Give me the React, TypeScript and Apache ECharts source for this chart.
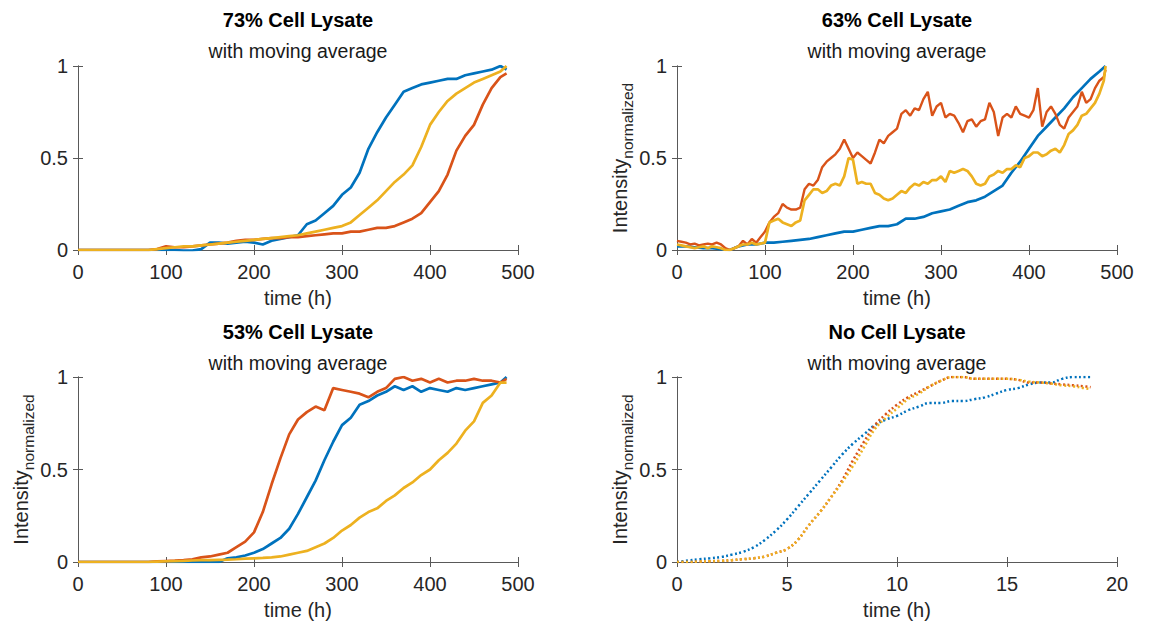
import React, { useEffect, useRef } from "react";
import * as echarts from "echarts";

const FONT = "'Liberation Sans', Arial, Helvetica, sans-serif";
const BLUE = "#0072BD";
const RED = "#D95319";
const YELLOW = "#EDB120";

// time axis (h) for the lysate experiments
const timeLysate = [
  0, 10, 20, 30, 40, 50, 60, 70, 80, 90, 100, 110, 120, 130, 140, 150, 160, 170, 180, 190,
  200, 210, 220, 230, 240, 250, 260, 270, 280, 290, 300, 310, 320, 330, 340, 350, 360, 370, 380, 390,
  400, 410, 420, 430, 440, 450, 460, 470, 480, 487,
];
// finer time axis (h) for the noisy 63% traces
const timeFine = [
  0, 5, 10, 15, 20, 25, 30, 35, 40, 45,
  50, 55, 60, 65, 70, 75, 80, 85, 90, 95,
  100, 105, 110, 115, 120, 125, 130, 135, 140, 145,
  150, 155, 160, 165, 170, 175, 180, 185, 190, 195,
  200, 205, 210, 215, 220, 225, 230, 235, 240, 245,
  250, 255, 260, 265, 270, 275, 280, 285, 290, 295,
  300, 305, 310, 315, 320, 325, 330, 335, 340, 345,
  350, 355, 360, 365, 370, 375, 380, 385, 390, 395,
  400, 405, 410, 415, 420, 425, 430, 435, 440, 445,
  450, 455, 460, 465, 470, 475, 480, 485, 487,
];

// 73% Cell Lysate
const blue73 = [
  0, 0, 0, 0, 0, 0, 0, 0, 0, 0, 0, 0, -0.003, -0.003, 0.005, 0.04, 0.04, 0.035, 0.04, 0.045,
  0.04, 0.03, 0.05, 0.06, 0.07, 0.08, 0.14, 0.16, 0.2, 0.24, 0.3, 0.34, 0.42, 0.55, 0.64, 0.72, 0.79, 0.86, 0.88, 0.9,
  0.91, 0.92, 0.93, 0.93, 0.95, 0.96, 0.97, 0.98, 1.0, 0.98,
];
const red73 = [
  0, 0, 0, 0, 0, 0, 0, 0, 0, 0.005, 0.02, 0.015, 0.015, 0.02, 0.025, 0.03, 0.035, 0.04, 0.05, 0.055,
  0.055, 0.06, 0.065, 0.065, 0.07, 0.07, 0.075, 0.08, 0.085, 0.09, 0.09, 0.1, 0.1, 0.11, 0.12, 0.12, 0.13, 0.15, 0.17, 0.2,
  0.26, 0.32, 0.41, 0.54, 0.62, 0.68, 0.79, 0.88, 0.94, 0.96,
];
const yellow73 = [
  0, 0, 0, 0, 0, 0, 0, 0, 0, 0.005, 0.01, 0.015, 0.02, 0.02, 0.025, 0.03, 0.035, 0.04, 0.045, 0.05,
  0.055, 0.06, 0.065, 0.07, 0.075, 0.08, 0.09, 0.1, 0.11, 0.12, 0.13, 0.15, 0.19, 0.23, 0.27, 0.32, 0.37, 0.41, 0.46, 0.56,
  0.68, 0.75, 0.81, 0.85, 0.88, 0.91, 0.93, 0.95, 0.97, 1.0,
];

// 63% Cell Lysate
const blue63 = [
  0.02, 0.02, 0.015, 0.01, 0.01, 0.005, 0.0, 0.02, 0.03, 0.03, 0.04, 0.04, 0.045, 0.05, 0.055, 0.06, 0.07, 0.08, 0.09, 0.1,
  0.1, 0.11, 0.12, 0.13, 0.13, 0.14, 0.17, 0.17, 0.18, 0.2, 0.21, 0.22, 0.24, 0.26, 0.27, 0.29, 0.32, 0.35, 0.42, 0.48,
  0.55, 0.62, 0.67, 0.72, 0.77, 0.83, 0.88, 0.93, 0.97, 1.0,
];
const red63 = [
  0.05, 0.045, 0.04, 0.03, 0.035, 0.025, 0.03, 0.035, 0.03, 0.04,
  0.03, 0.01, 0.0, 0.01, 0.02, 0.05, 0.03, 0.06, 0.04, 0.07,
  0.1, 0.15, 0.18, 0.2, 0.25, 0.23, 0.22, 0.22, 0.23, 0.33,
  0.36, 0.35, 0.38, 0.45, 0.48, 0.5, 0.52, 0.55, 0.6, 0.55,
  0.5, 0.53, 0.51, 0.49, 0.47, 0.53, 0.6, 0.58, 0.62, 0.64,
  0.66, 0.74, 0.76, 0.73, 0.77, 0.76, 0.82, 0.86, 0.73, 0.78,
  0.8, 0.72, 0.74, 0.73, 0.69, 0.64, 0.7, 0.71, 0.67, 0.7,
  0.71, 0.8, 0.75, 0.62, 0.72, 0.74, 0.72, 0.78, 0.74, 0.73,
  0.72, 0.76, 0.88, 0.67, 0.75, 0.78, 0.74, 0.68, 0.66, 0.72,
  0.75, 0.78, 0.86, 0.8, 0.82, 0.88, 0.92, 0.94, 0.98,
];
const yellow63 = [
  0.03, 0.025, 0.02, 0.015, 0.01, 0.015, 0.02, 0.01, 0.02, 0.015,
  0.01, 0.0, 0.0, 0.01, 0.02, 0.03, 0.03, 0.04, 0.03, 0.035,
  0.04, 0.15, 0.16, 0.17, 0.15, 0.14, 0.13, 0.15, 0.16, 0.27,
  0.3, 0.33, 0.33, 0.31, 0.32, 0.35, 0.36, 0.35, 0.4, 0.5,
  0.49, 0.36, 0.37, 0.36, 0.36, 0.31, 0.3, 0.28, 0.27, 0.28,
  0.3, 0.32, 0.31, 0.34, 0.36, 0.35, 0.37, 0.36, 0.38, 0.38,
  0.4, 0.37, 0.43, 0.42, 0.43, 0.44, 0.43, 0.4, 0.36, 0.35,
  0.36, 0.4, 0.41, 0.43, 0.42, 0.44, 0.44, 0.46, 0.45, 0.5,
  0.51, 0.53, 0.53, 0.51, 0.52, 0.54, 0.55, 0.53, 0.57, 0.63,
  0.65, 0.68, 0.73, 0.74, 0.77, 0.8, 0.85, 0.92, 1.0,
];

// 53% Cell Lysate
const blue53 = [
  0, 0, 0, 0, 0, 0, 0, 0, 0, 0, 0, 0, 0, 0, 0, 0, 0, 0.02, 0.025, 0.035,
  0.05, 0.07, 0.1, 0.13, 0.18, 0.26, 0.35, 0.44, 0.55, 0.65, 0.74, 0.78, 0.85, 0.87, 0.9, 0.92, 0.95, 0.93, 0.95, 0.92,
  0.94, 0.93, 0.92, 0.94, 0.93, 0.94, 0.95, 0.96, 0.97, 1.0,
];
const red53 = [
  0, 0, 0, 0, 0, 0, 0, 0, 0, 0.003, 0.005, 0.007, 0.01, 0.015, 0.025, 0.03, 0.04, 0.05, 0.08, 0.11,
  0.16, 0.27, 0.42, 0.56, 0.69, 0.77, 0.81, 0.84, 0.82, 0.94, 0.93, 0.92, 0.91, 0.89, 0.92, 0.94, 0.99, 1.0, 0.98, 0.99,
  0.97, 0.99, 0.97, 0.98, 0.98, 0.99, 0.98, 0.98, 0.97, 0.99,
];
const yellow53 = [
  0, 0, 0, 0, 0, 0, 0, 0, 0, 0.002, 0.004, 0.005, 0.006, 0.008, 0.01, 0.01, 0.012, 0.013, 0.015, 0.018,
  0.02, 0.022, 0.025, 0.03, 0.04, 0.05, 0.06, 0.08, 0.1, 0.13, 0.17, 0.2, 0.24, 0.27, 0.29, 0.33, 0.36, 0.4, 0.43, 0.47,
  0.5, 0.55, 0.59, 0.64, 0.71, 0.76, 0.86, 0.9, 0.97, 0.97,
];

// No Cell Lysate
const timeNone = [
  0, 0.5, 1, 1.5, 2, 2.5, 3, 3.5, 4, 4.5, 5, 5.5, 6, 6.5, 7, 7.5, 8, 8.5, 9, 9.5,
  10, 10.5, 11, 11.5, 12, 12.5, 13, 13.5, 14, 14.5, 15, 15.5, 16, 16.5, 17, 17.5, 18, 18.5, 18.8,
];
const blueNone = [
  0, 0.008, 0.015, 0.02, 0.027, 0.04, 0.055, 0.08, 0.12, 0.17, 0.23, 0.3, 0.37, 0.44, 0.51, 0.58, 0.64, 0.69, 0.74, 0.77,
  0.79, 0.82, 0.84, 0.86, 0.86, 0.87, 0.87, 0.88, 0.89, 0.91, 0.93, 0.94, 0.96, 0.97, 0.97, 0.99, 1.0, 1.0, 1.0,
];
const redNone = [
  0, 0, 0.002, 0.004, 0.006, 0.01, 0.015, 0.02, 0.03, 0.05, 0.07, 0.12, 0.2, 0.27, 0.35, 0.44, 0.55, 0.65, 0.74, 0.8,
  0.85, 0.89, 0.92, 0.95, 0.98, 1.0, 1.0, 0.99, 0.99, 0.99, 0.99, 0.985, 0.97, 0.97, 0.965, 0.96, 0.955, 0.95, 0.945,
];
const yellowNone = [
  0, 0, 0.002, 0.004, 0.006, 0.01, 0.015, 0.02, 0.03, 0.05, 0.07, 0.12, 0.2, 0.27, 0.35, 0.43, 0.52, 0.62, 0.72, 0.78,
  0.83, 0.88, 0.91, 0.95, 0.98, 1.0, 1.0, 0.99, 0.99, 0.99, 0.99, 0.985, 0.975, 0.97, 0.965, 0.955, 0.95, 0.94, 0.935,
];

const xTicksLysate = { min: 0, max: 500, interval: 100 };
const xTicksNone = { min: 0, max: 20, interval: 5 };
const yTicks = { min: 0, max: 1, interval: 0.5 };

const titles = ["73% Cell Lysate", "63% Cell Lysate", "53% Cell Lysate", "No Cell Lysate"];
const subtitle = "with moving average";
const xName = "time (h)";

const GRIDS = [
  { left: 78, top: 66, width: 440, height: 184 },
  { left: 677, top: 66, width: 440, height: 184 },
  { left: 78, top: 377, width: 440, height: 185 },
  { left: 677, top: 377, width: 440, height: 185 },
];

const zip = (t: number[], v: number[]) => t.map((x, i) => [x, v[i]]);

export default function App() {
  const ref = useRef<HTMLDivElement>(null);
  useEffect(() => {
    if (!ref.current) return;
    const chart = echarts.init(ref.current, undefined, { renderer: "svg" });
    const axisColor = "#595959";
    const labelColor = "#262626";

    const xAxes: any[] = [];
    const yAxes: any[] = [];
    GRIDS.forEach((g, i) => {
      const xt = i === 3 ? xTicksNone : xTicksLysate;
      xAxes.push({
        type: "value",
        gridIndex: i,
        ...xt,
        position: "bottom",
        name: xName,
        nameLocation: "middle",
        nameGap: 38,
        nameTextStyle: { fontSize: 20, color: labelColor, fontFamily: FONT },
        axisLine: { show: true, lineStyle: { color: axisColor, width: 1 } },
        axisTick: { show: true, inside: true, length: 5, lineStyle: { color: axisColor } },
        axisLabel: { fontSize: 20, color: labelColor, fontFamily: FONT, margin: 12 },
        splitLine: { show: false },
      });
      xAxes.push({
        type: "value",
        gridIndex: i,
        ...xt,
        position: "top",
        axisLine: { show: true, lineStyle: { color: axisColor, width: 1 } },
        axisTick: { show: true, inside: true, length: 5, lineStyle: { color: axisColor } },
        axisLabel: { show: false },
        splitLine: { show: false },
      });
      yAxes.push({
        type: "value",
        gridIndex: i,
        ...yTicks,
        position: "left",
        name: i === 0 ? "" : "{a|Intensity}{b|normalized}",
        nameLocation: "middle",
        nameGap: 39,
        nameTextStyle: {
          color: labelColor,
          fontFamily: FONT,
          rich: {
            a: { fontSize: 20, color: labelColor, fontFamily: FONT, lineHeight: 31, verticalAlign: "middle" },
            b: { fontSize: 15.5, color: labelColor, fontFamily: FONT, lineHeight: 15, verticalAlign: "bottom" },
          },
        },
        axisLine: { show: true, lineStyle: { color: axisColor, width: 1 } },
        axisTick: { show: true, inside: true, length: 5, lineStyle: { color: axisColor } },
        axisLabel: { fontSize: 20, color: labelColor, fontFamily: FONT, margin: 10 },
        splitLine: { show: false },
      });
      yAxes.push({
        type: "value",
        gridIndex: i,
        ...yTicks,
        position: "right",
        axisLine: { show: true, lineStyle: { color: axisColor, width: 1 } },
        axisTick: { show: true, inside: true, length: 5, lineStyle: { color: axisColor } },
        axisLabel: { show: false },
        splitLine: { show: false },
      });
    });

    const solid = (gi: number, t: number[], v: number[], color: string, w = 2.7) => ({
      type: "line",
      xAxisIndex: gi * 2,
      yAxisIndex: gi * 2,
      data: zip(t, v),
      showSymbol: false,
      symbol: "none",
      lineStyle: { color, width: w },
      itemStyle: { color },
      z: 2,
    });
    const dotted = (gi: number, t: number[], v: number[], color: string) => ({
      type: "line",
      xAxisIndex: gi * 2,
      yAxisIndex: gi * 2,
      data: zip(t, v),
      showSymbol: false,
      symbol: "none",
      smooth: 0.4,
      lineStyle: { color, width: 2.5, type: [2, 2.5] },
      itemStyle: { color },
      z: 2,
    });

    const titleOpts: any[] = [];
    GRIDS.forEach((g, i) => {
      const cx = g.left + g.width / 2;
      const baseTop = i < 2 ? 0 : 312;
      titleOpts.push({
        text: titles[i],
        left: cx,
        top: baseTop + 10,
        textAlign: "center",
        padding: 0,
        textStyle: { fontSize: 20, fontWeight: "bold", color: "#000", fontFamily: FONT },
      });
      titleOpts.push({
        text: subtitle,
        left: cx,
        top: baseTop + 41,
        textAlign: "center",
        padding: 0,
        textStyle: { fontSize: 19.5, fontWeight: "normal", color: "#1a1a1a", fontFamily: FONT },
      });
    });

    chart.setOption({
      animation: false,
      backgroundColor: "#ffffff",
      textStyle: { fontFamily: FONT },
      title: titleOpts,
      grid: GRIDS.map((g) => ({ ...g, containLabel: false })),
      xAxis: xAxes,
      yAxis: yAxes,
      series: [
        solid(0, timeLysate, blue73, BLUE),
        solid(0, timeLysate, red73, RED),
        solid(0, timeLysate, yellow73, YELLOW),
        solid(1, timeLysate, blue63, BLUE),
        solid(1, timeFine, red63, RED, 2.4),
        solid(1, timeFine, yellow63, YELLOW),
        solid(2, timeLysate, blue53, BLUE),
        solid(2, timeLysate, red53, RED),
        solid(2, timeLysate, yellow53, YELLOW),
        dotted(3, timeNone, blueNone, BLUE),
        dotted(3, timeNone, redNone, RED),
        dotted(3, timeNone, yellowNone, YELLOW),
      ],
    });
    return () => chart.dispose();
  }, []);

  return (
    <div
      ref={ref}
      style={{ position: "absolute", left: 0, top: 0, width: 1153, height: 624, background: "#fff" }}
    />
  );
}
